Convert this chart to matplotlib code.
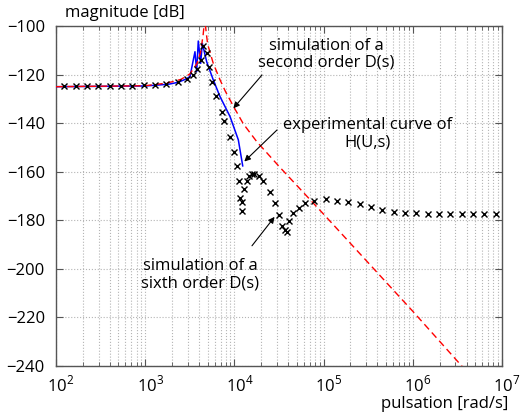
import numpy as np
import matplotlib
matplotlib.use("Agg")
import matplotlib.pyplot as plt
from matplotlib.ticker import LogLocator, NullFormatter, FixedLocator, FixedFormatter
import matplotlib.transforms as mtransforms

plt.rcParams["font.family"] = ["Open Sans", "DejaVu Sans"]
plt.rcParams["mathtext.fontset"] = "custom"
plt.rcParams["mathtext.rm"] = "Open Sans"

# experimental points H(U,s): log10(pulsation), magnitude [dB]
exp_logw = [2.093, 2.221, 2.348, 2.474, 2.602, 2.729, 2.855, 2.983, 3.110, 3.237,
            3.371, 3.465, 3.539, 3.584, 3.620, 3.651, 3.689, 3.715, 3.746, 3.790,
            3.858, 3.883, 3.951, 3.992, 4.026, 4.052, 4.068, 4.085, 4.082, 4.108,
            4.138, 4.167, 4.197, 4.220, 4.272, 4.315, 4.399, 4.455, 4.500, 4.530,
            4.567, 4.586, 4.612, 4.660, 4.721, 4.795, 4.896, 5.024, 5.150, 5.277,
            5.405, 5.531, 5.658, 5.786, 5.913, 6.039, 6.167, 6.294, 6.420, 6.548,
            6.675, 6.802, 6.929]
exp_db = [-124.7, -124.7, -124.7, -124.7, -124.7, -124.6, -124.6, -124.4, -124.1, -123.9,
          -123.0, -121.7, -120.0, -117.6, -114.1, -108.3, -111.2, -116.7, -122.9, -128.8,
          -135.5, -139.0, -145.8, -151.8, -157.5, -163.8, -170.8, -172.3, -176.1, -167.2,
          -163.8, -161.8, -161.1, -160.8, -161.7, -163.8, -168.2, -172.7, -177.8, -182.3,
          -183.9, -185.0, -180.5, -177.1, -174.8, -172.7, -171.9, -171.3, -171.9, -172.6,
          -173.5, -174.6, -175.7, -176.4, -177.0, -177.2, -177.5, -177.5, -177.5, -177.5,
          -177.5, -177.5, -177.5]

# sixth order D(s) simulation (blue)
sixth_logw = [2.0, 3.0, 3.26, 3.37, 3.46, 3.502, 3.558, 3.577, 3.595, 3.622,
              3.640, 3.689, 3.763, 3.839, 3.951, 4.044, 4.093]
sixth_db = [-125.0, -124.7, -124.0, -123.2, -121.8, -120.8, -110.6, -118.8, -106.2, -115.4,
            -107.1, -114.7, -122.2, -129.1, -137.3, -146.9, -157.6]

# second order D(s) simulation (red dashed)
second_logw = [2.0, 3.0, 3.2, 3.3, 3.4, 3.5, 3.58, 3.62, 3.65, 3.667,
               3.685, 3.7, 3.763, 3.839, 3.9, 4.0, 4.1, 4.25, 4.5, 5.0,
               6.0, 6.56]
second_db = [-125.0, -124.6, -123.7, -123.0, -122.0, -119.8, -115.5, -111.0, -103.5, -97.0,
             -103.0, -107.5, -115.4, -122.2, -127.0, -133.8, -140.3, -147.6, -157.8, -177.5,
             -217.5, -240.5]

xtick_exp = [2, 3, 4, 5, 6, 7]
ytick_vals = [-240, -220, -200, -180, -160, -140, -120, -100]

fig = plt.figure(figsize=(5.23, 4.19), dpi=100)
ax = fig.add_axes([0.107, 0.1265, 0.853, 0.8115])

ax.plot(10 ** np.array(sixth_logw), sixth_db, color="#0000ff", lw=1.1, zorder=3)
ax.plot(10 ** np.array(second_logw), second_db, color="red", lw=1.0,
        linestyle=(0, (5, 3)), zorder=3)
ax.plot(10 ** np.array(exp_logw), exp_db, linestyle="none", marker="x",
        color="black", markersize=4.2, mew=1.0, zorder=4)

ax.set_xscale("log")
ax.set_xlim(1e2, 1e7)
ax.set_ylim(-240, -100)
ax.yaxis.set_major_locator(FixedLocator(ytick_vals))
ax.xaxis.set_major_locator(FixedLocator([10.0 ** k for k in xtick_exp]))
ax.xaxis.set_major_formatter(FixedFormatter([r"$10^{%d}$" % k for k in xtick_exp]))
ax.xaxis.set_minor_locator(LogLocator(base=10, subs=np.arange(2, 10), numticks=100))
ax.xaxis.set_minor_formatter(NullFormatter())

ax.grid(True, which="major", linestyle=":", color="#b4b4b4", lw=0.8)
ax.grid(True, which="minor", axis="x", linestyle=":", color="#b4b4b4", lw=0.8)
ax.tick_params(which="both", direction="in", top=True, right=True, colors="#555555",
               labelcolor="black", labelsize=12)
ax.tick_params(which="major", length=5)
ax.tick_params(which="minor", length=3)
ax.tick_params(axis="x", pad=6)
ax.tick_params(axis="y", pad=8)
for sp in ax.spines.values():
    sp.set_color("#555555")
    sp.set_linewidth(1.0)

offset = mtransforms.ScaledTranslation(5 / 100, 0, fig.dpi_scale_trans)
for lbl in ax.get_xticklabels():
    lbl.set_transform(lbl.get_transform() + offset)

ax.text(0.02, 1.038, "magnitude [dB]", transform=ax.transAxes, fontsize=12,
        ha="left", va="center")
fig.text(508 / 523, 1 - 404 / 419, "pulsation [rad/s]", fontsize=12,
         ha="right", va="center")

arrow = dict(arrowstyle="-|>", color="black", lw=0.8, mutation_scale=9,
             shrinkA=0, shrinkB=0)
ax.annotate("", xy=(10 ** 3.988, -133.9), xytext=(10 ** 4.309, -120.2), arrowprops=arrow)
ax.annotate("", xy=(10 ** 4.111, -155.8), xytext=(10 ** 4.478, -142.8), arrowprops=arrow)
ax.annotate("", xy=(10 ** 4.450, -178.6), xytext=(10 ** 4.197, -190.5), arrowprops=arrow)

ax.text(10 ** 5.027, -111.7, "simulation of a\nsecond order D(s)", fontsize=12,
        ha="center", va="center", linespacing=1.1)
ax.text(10 ** 5.487, -144.4, "experimental curve of\nH(U,s)", fontsize=12,
        ha="center", va="center", linespacing=1.1)
ax.text(10 ** 3.614, -202.3, "simulation of a\nsixth order D(s)", fontsize=12,
        ha="center", va="center", linespacing=1.1)

fig.savefig("out.png", dpi=100)
